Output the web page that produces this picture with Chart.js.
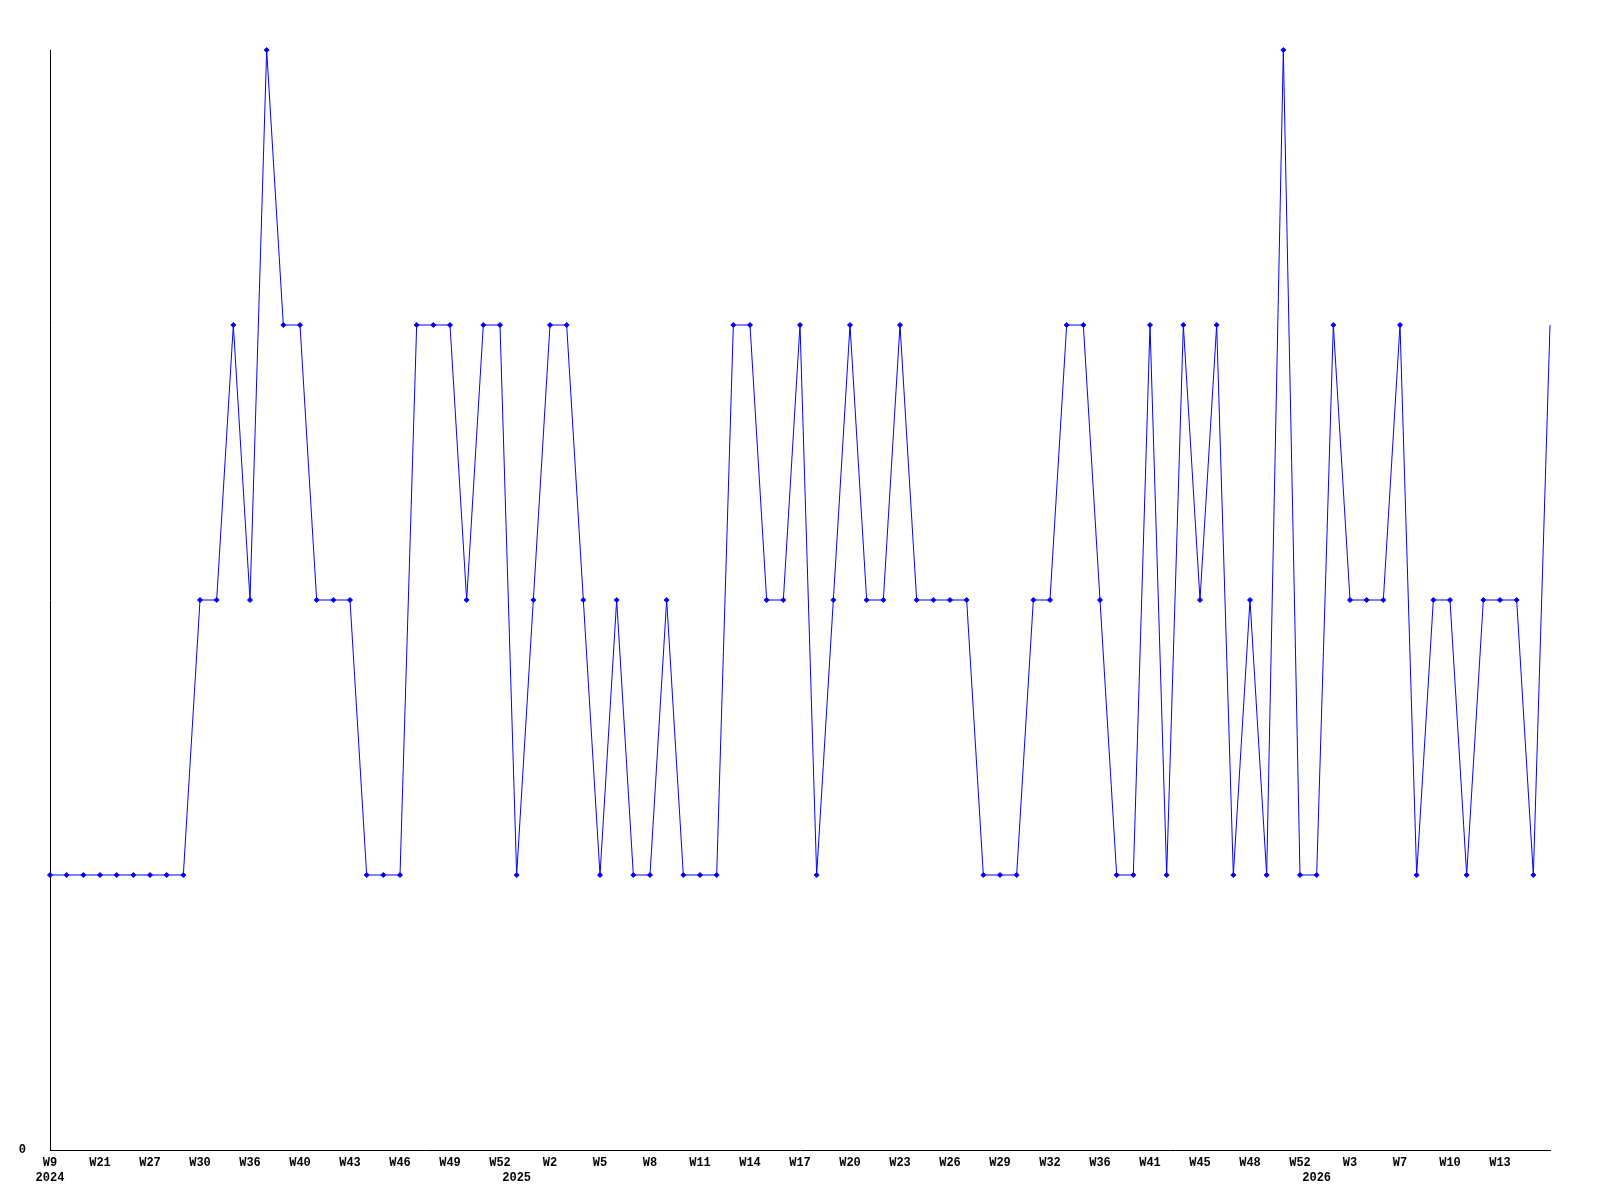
<!DOCTYPE html>
<html>
<head>
<meta charset="utf-8">
<script src="https://cdn.jsdelivr.net/npm/chart.js@4/dist/chart.umd.min.js"></script>
<style>
  body { margin: 0; background: #fff; }
  #grafico { display: block; }
</style>
</head>
<body>
<canvas id="grafico" width="1600" height="1200"></canvas>
<script>
const semanas = [
  "W9", "W13", "W17", "W21", "W23", "W25", "W27", "W28", "W29", "W30",
  "W32", "W34", "W36", "W37", "W39", "W40", "W41", "W42", "W43", "W44",
  "W45", "W46", "W47", "W48", "W49", "W50", "W51", "W52", "W1", "W1",
  "W2", "W3", "W4", "W5", "W6", "W7", "W8", "W9", "W10", "W11",
  "W12", "W13", "W14", "W15", "W16", "W17", "W18", "W19", "W20", "W21",
  "W22", "W23", "W24", "W25", "W26", "W27", "W28", "W29", "W30", "W31",
  "W32", "W34", "W35", "W36", "W38", "W40", "W41", "W43", "W44", "W45",
  "W46", "W47", "W48", "W49", "W51", "W52", "W1", "W2", "W3", "W5",
  "W6", "W7", "W8", "W9", "W10", "W11", "W12", "W13", "W14", "W15",
  "W16"
];

// ano mostrado na segunda linha, pelo índice da semana
const anos = { 0: "2024", 28: "2025", 76: "2026" };

const valores = [
  1, 1, 1, 1, 1, 1, 1, 1, 1, 2,
  2, 3, 2, 4, 3, 3, 2, 2, 2, 1,
  1, 1, 3, 3, 3, 2, 3, 3, 1, 2,
  3, 3, 2, 1, 2, 1, 1, 2, 1, 1,
  1, 3, 3, 2, 2, 3, 1, 2, 3, 2,
  2, 3, 2, 2, 2, 2, 1, 1, 1, 2,
  2, 3, 3, 2, 1, 1, 3, 1, 3, 2,
  3, 1, 2, 1, 4, 1, 1, 3, 2, 2,
  2, 3, 1, 2, 2, 1, 2, 2, 2, 1,
  3
];

const fonte = { family: "'Liberation Mono', 'DejaVu Sans Mono', monospace", size: 12, weight: "bold" };

new Chart(document.getElementById("grafico"), {
  type: "line",
  data: {
    labels: semanas,
    datasets: [
      {
        data: valores,
        borderColor: "#0000ff",
        backgroundColor: "#0000ff",
        borderWidth: 1,
        pointStyle: "rectRot",
        pointRadius: (ctx) => (ctx.dataIndex === valores.length - 1 ? 0 : 2.5),
        pointBorderWidth: 1,
        tension: 0,
        clip: false,
      },
    ],
  },
  options: {
    responsive: false,
    animation: false,
    layout: { padding: { top: 50, right: 50, left: 0, bottom: 0 } },
    plugins: {
      legend: { display: false },
      tooltip: { enabled: false },
    },
    scales: {
      x: {
        offset: false,
        grid: { display: false, drawTicks: false },
        border: { display: true, color: "#000", width: 1 },
        afterFit: (scale) => { scale.height = 50; },
        ticks: {
          autoSkip: false,
          maxRotation: 0,
          padding: 6,
          color: "#000",
          font: fonte,
          callback: function (value, i) {
            const mostra = i % 3 === 0 && i < valores.length - 1;
            const semana = mostra ? semanas[i] : "";
            if (anos[i]) return [semana, anos[i]];
            return semana;
          },
        },
      },
      y: {
        min: 0,
        max: 4,
        grid: { display: false, drawTicks: false },
        border: { display: true, color: "#000", width: 1 },
        afterFit: (scale) => { scale.width = 50; },
        ticks: {
          stepSize: 1,
          padding: 24,
          color: "#000",
          font: fonte,
          callback: (v) => (v === 0 ? "0" : ""),
        },
      },
    },
  },
});
</script>
</body>
</html>
